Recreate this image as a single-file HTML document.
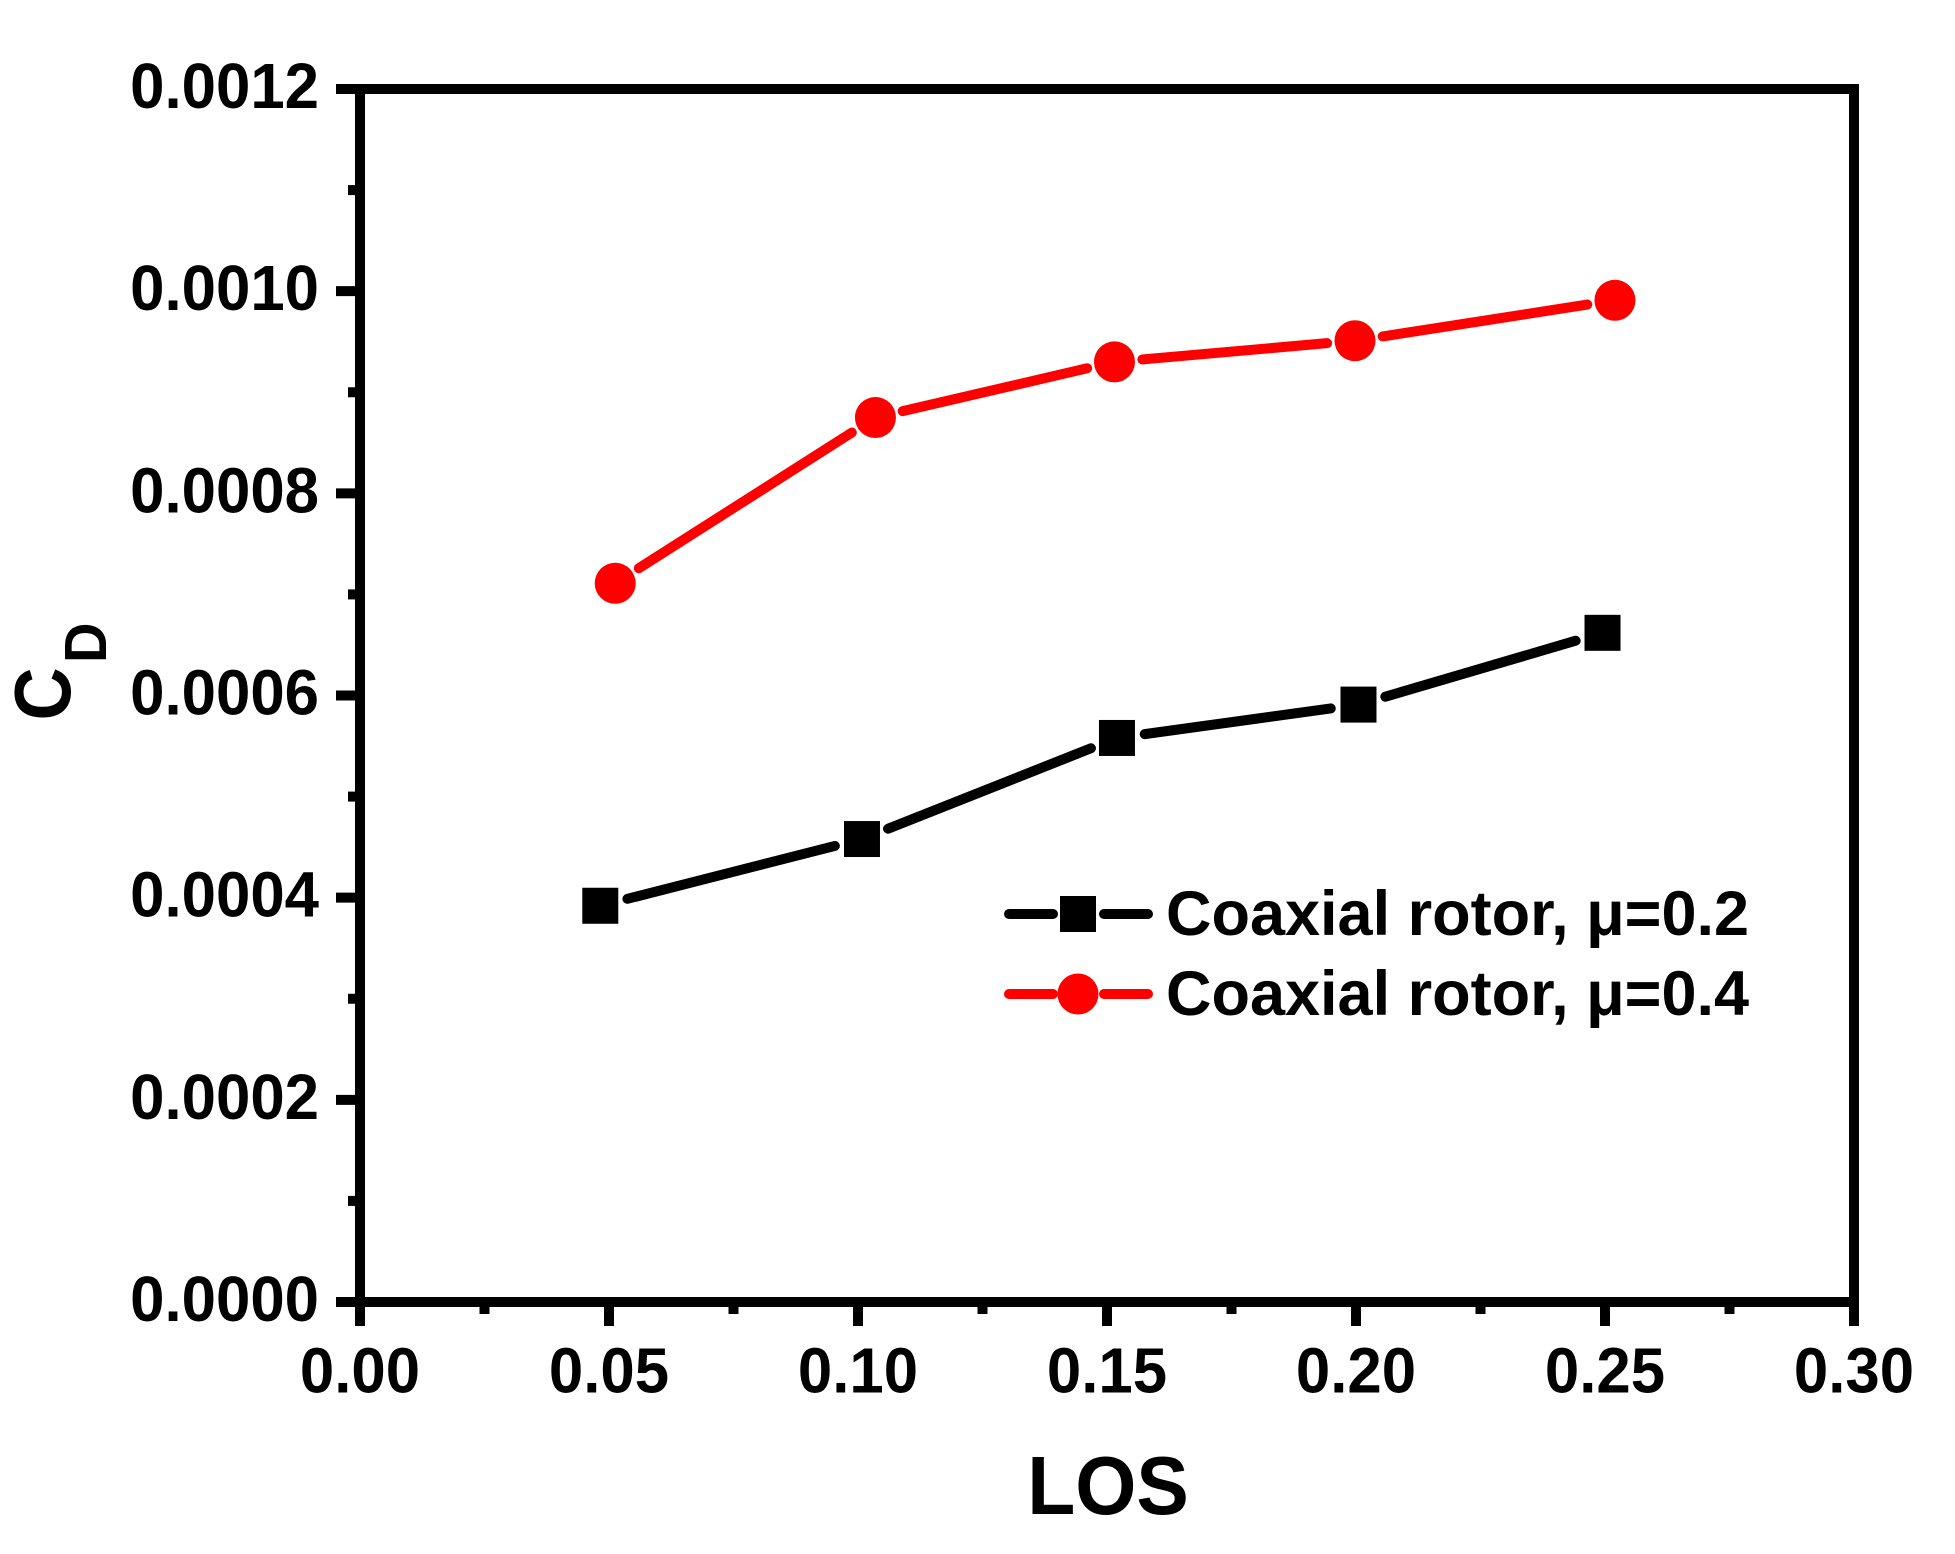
<!DOCTYPE html>
<html>
<head>
<meta charset="utf-8">
<title>CD vs LOS</title>
<style>
html,body{margin:0;padding:0;background:#fff;}
svg{display:block;}
text{font-family:"Liberation Sans",Arial,sans-serif;font-weight:bold;fill:#000;}
</style>
</head>
<body>
<svg id="chart" width="1955" height="1554" viewBox="0 0 1955 1554" xmlns="http://www.w3.org/2000/svg">
  <rect x="0" y="0" width="1955" height="1554" fill="#fff"/>
  <g id="series-layer"></g>
  <g id="axes-layer"></g>
  <text transform="translate(1108,1514) scale(0.947,1)" font-size="83" text-anchor="middle">LOS</text>
  <text transform="translate(70,720.5) rotate(-90) scale(0.92,1)" font-size="80">C</text>
  <text transform="translate(106,663) rotate(-90) scale(0.95,1)" font-size="59">D</text>
  <g>
    <g>
      <line x1="1009" y1="914" x2="1053" y2="914" stroke="#000" stroke-width="10" stroke-linecap="round"/>
      <line x1="1104" y1="914" x2="1148" y2="914" stroke="#000" stroke-width="10" stroke-linecap="round"/>
      <rect x="1060" y="896" width="36" height="36" fill="#000"/>
      <text x="1166" y="935" font-size="63">Coaxial rotor, μ=0.2</text>
    </g>
    <g>
      <line x1="1009" y1="994" x2="1053" y2="994" stroke="#f00" stroke-width="10" stroke-linecap="round"/>
      <line x1="1104" y1="994" x2="1148" y2="994" stroke="#f00" stroke-width="10" stroke-linecap="round"/>
      <circle cx="1078" cy="994" r="20.5" fill="#f00"/>
      <text x="1166" y="1015" font-size="63">Coaxial rotor, μ=0.4</text>
    </g>
  </g>
</svg>
<script>
var xTickValues = [0, 0.05, 0.10, 0.15, 0.20, 0.25, 0.30];
var xTickLabels = ["0.00", "0.05", "0.10", "0.15", "0.20", "0.25", "0.30"];
var xMinorTicks = [0.025, 0.075, 0.125, 0.175, 0.225, 0.275];
var yTickValues = [0, 0.0002, 0.0004, 0.0006, 0.0008, 0.0010, 0.0012];
var yTickLabels = ["0.0000", "0.0002", "0.0004", "0.0006", "0.0008", "0.0010", "0.0012"];
var yMinorTicks = [0.0001, 0.0003, 0.0005, 0.0007, 0.0009, 0.0011];
var blackLos = [0.04825, 0.1008, 0.1520, 0.2005, 0.2495];
var blackCd = [0.000392, 0.000458, 0.000558, 0.000591, 0.000662];
var redLos = [0.05125, 0.1035, 0.1515, 0.1998, 0.2520];
var redCd = [0.000711, 0.000875, 0.000930, 0.000951, 0.000991];

var NS = "http://www.w3.org/2000/svg";
var PLOT_LEFT = 360, PLOT_RIGHT = 1854, PLOT_TOP = 89, PLOT_BOTTOM = 1302;
function xScale(v) { return PLOT_LEFT + (v / 0.30) * (PLOT_RIGHT - PLOT_LEFT); }
function yScale(v) { return PLOT_BOTTOM - (v / 0.0012) * (PLOT_BOTTOM - PLOT_TOP); }
function make(tag, attrs, parent) {
  var el = document.createElementNS(NS, tag);
  for (var k in attrs) { el.setAttribute(k, attrs[k]); }
  parent.appendChild(el);
  return el;
}
var axes = document.getElementById("axes-layer");
var series = document.getElementById("series-layer");

var frame = make("rect", {x: PLOT_LEFT, y: PLOT_TOP, width: PLOT_RIGHT - PLOT_LEFT, height: PLOT_BOTTOM - PLOT_TOP, fill: "none", stroke: "#000", "stroke-width": 10}, axes);



xTickValues.forEach(function (v, i) {
  var x = xScale(v);
  var tick = make("line", {x1: x, x2: x, y1: PLOT_BOTTOM, y2: 1326, stroke: "#000", "stroke-width": 10}, axes);
  
  
  var label = make("text", {transform: "translate(" + x + ",1392.5) scale(0.965,1)", "font-size": 64, "text-anchor": "middle"}, axes);
  
  
  label.textContent = xTickLabels[i];
});
xMinorTicks.forEach(function (v) {
  var x = xScale(v);
  var tick = make("line", {x1: x, x2: x, y1: PLOT_BOTTOM, y2: 1314, stroke: "#000", "stroke-width": 10}, axes);
  
  
});
yTickValues.forEach(function (v, i) {
  var y = yScale(v);
  var tick = make("line", {x1: 336, x2: PLOT_LEFT, y1: y, y2: y, stroke: "#000", "stroke-width": 10}, axes);
  
  
  var label = make("text", {transform: "translate(319," + (y + 19) + ") scale(0.965,1)", "font-size": 64, "text-anchor": "end"}, axes);
  
  
  label.textContent = yTickLabels[i];
});
yMinorTicks.forEach(function (v) {
  var y = yScale(v);
  var tick = make("line", {x1: 348, x2: PLOT_LEFT, y1: y, y2: y, stroke: "#000", "stroke-width": 10}, axes);
  
  
});

function drawSegments(xs, ys, color, name) {
  var GAP = 28;
  for (var i = 0; i < xs.length - 1; i++) {
    var x1 = xScale(xs[i]), y1 = yScale(ys[i]), x2 = xScale(xs[i + 1]), y2 = yScale(ys[i + 1]);
    var len = Math.hypot(x2 - x1, y2 - y1);
    var ux = (x2 - x1) / len, uy = (y2 - y1) / len;
    var seg = make("line", {x1: x1 + ux * GAP, y1: y1 + uy * GAP, x2: x2 - ux * GAP, y2: y2 - uy * GAP, stroke: color, "stroke-width": 10, "stroke-linecap": "round"}, series);
    
    
  }
}
drawSegments(blackLos, blackCd, "#000", "mu-0-2");
drawSegments(redLos, redCd, "#f00", "mu-0-4");

blackLos.forEach(function (v, i) {
  var m = make("rect", {x: xScale(v) - 18, y: yScale(blackCd[i]) - 18, width: 36, height: 36, fill: "#000"}, series);
  
  
});
redLos.forEach(function (v, i) {
  var m = make("circle", {cx: xScale(v), cy: yScale(redCd[i]), r: 20.5, fill: "#f00"}, series);
  
  
});
</script>
</body>
</html>
